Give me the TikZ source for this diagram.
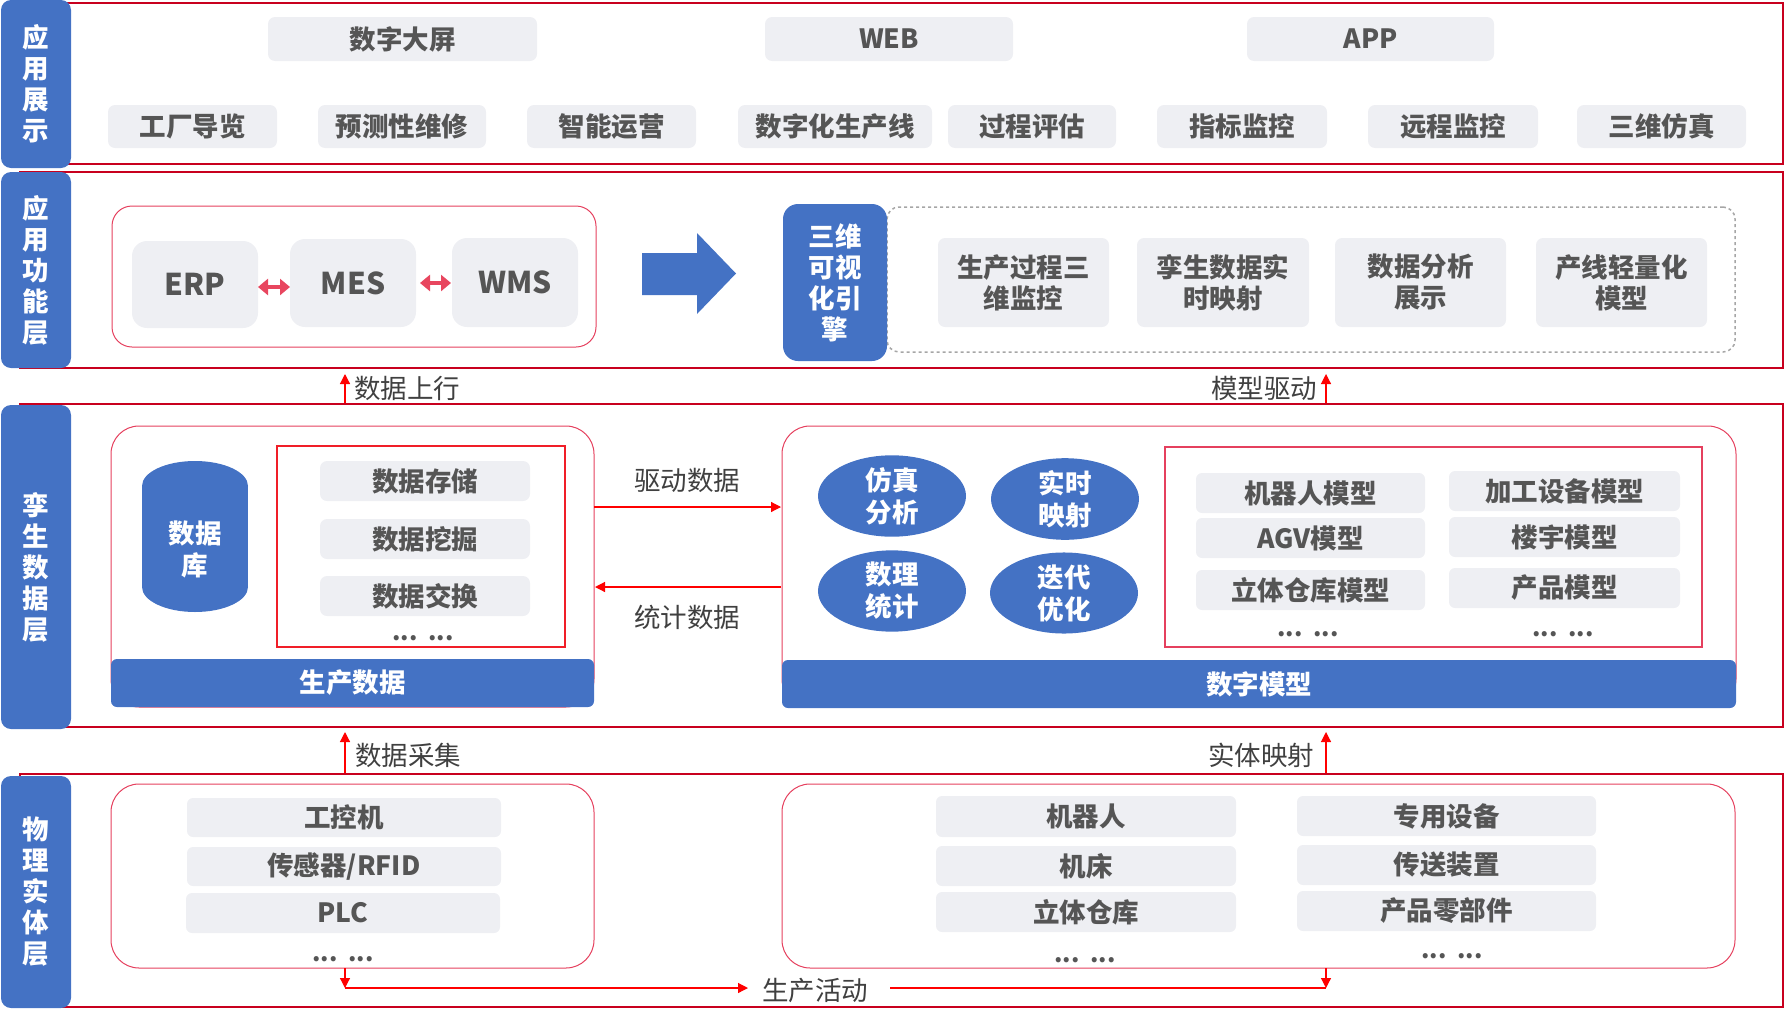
\documentclass[tikz,border=0pt]{standalone}
\usepackage{fontspec}
\setmainfont{Noto Sans CJK SC}
\usetikzlibrary{arrows.meta,shapes.geometric}
\definecolor{mblue}{HTML}{4472C4}
\definecolor{boxgray}{HTML}{EEEFF3}
\definecolor{tgray}{HTML}{555555}
\definecolor{lgray}{HTML}{404040}
\definecolor{bandred}{HTML}{C8001E}
\definecolor{conred}{HTML}{E5405E}
\definecolor{inred}{HTML}{F01E28}
\definecolor{arrred}{HTML}{FF0000}
\definecolor{dblred}{HTML}{E8465F}
\definecolor{dashgray}{HTML}{A6A6A6}
\newcommand{\bigf}{\fontsize{26.5}{31}\selectfont}
\begin{document}
\begin{tikzpicture}[x=1pt,y=-1pt,
  every node/.style={inner sep=0pt,outer sep=0pt},
  band/.style={draw=bandred,line width=2.5pt},
  lab/.style={fill=mblue,rounded corners=10pt,text=white,align=center,
    font=\bfseries\bigf,minimum width=70pt},
  gbox/.style={fill=boxgray,rounded corners=7pt,text=tgray,align=center,
    font=\bfseries\bigf},
  container/.style={draw=conred,line width=1pt,rounded corners=28pt},
  inbox/.style={draw=inred,line width=1.2pt},
  bluebar/.style={fill=mblue,rounded corners=6pt,text=white,
    font=\bfseries\bigf},
  circ/.style={ellipse,fill=mblue,text=white,align=center,
    minimum width=148pt,minimum height=80pt,
    font=\bfseries\fontsize{26.5}{32}\selectfont},
  clabel/.style={text=lgray,font=\bigf},
  dots/.style={text=tgray,font=\bfseries\fontsize{24}{26}\selectfont,anchor=base},
  rarrow/.style={draw=arrred,line width=1.2pt,-{Triangle[length=10pt,width=10pt]}},
  rline/.style={draw=arrred,line width=1.2pt},
  dbl/.style={draw=dblred,line width=4pt,
    {Triangle[length=10pt,width=16pt]}-{Triangle[length=10pt,width=16pt]}}
]
\useasboundingbox (0,0) rectangle (1786,1012);

% ---------- bands ----------
\node[band,minimum width=1763pt,minimum height=161pt] (b1) at (901.5,83.5) {};
\node[band,minimum width=1763pt,minimum height=196pt] (b2) at (901.5,270) {};
\node[band,minimum width=1763pt,minimum height=323pt] (b3) at (901.5,565.5) {};
\node[band,minimum width=1763pt,minimum height=233pt] (b4) at (901.5,890.5) {};

\node[lab,minimum height=168pt] (l1) at (36,84) {应\\用\\展\\示};
\node[lab,minimum height=196pt] (l2) at (36,270) {应\\用\\功\\能\\层};
\node[lab,minimum height=324pt] (l3) at (36,567) {孪\\生\\数\\据\\层};
\node[lab,minimum height=232pt] (l4) at (36,892) {物\\理\\实\\体\\层};

% ---------- band 1 ----------
\node[gbox,minimum width=269pt,minimum height=44pt] (screen) at (402.5,39) {数字大屏};
\node[gbox,minimum width=248pt,minimum height=44pt] (web) at (889,39) {WEB};
\node[gbox,minimum width=247pt,minimum height=44pt] (app) at (1370.5,39) {APP};
\node[gbox,minimum width=169pt,minimum height=43pt] (t1) at (192.5,126.5) {工厂导览};
\node[gbox,minimum width=168pt,minimum height=43pt] (t2) at (402,126.5) {预测性维修};
\node[gbox,minimum width=169pt,minimum height=43pt] (t3) at (611.5,126.5) {智能运营};
\node[gbox,minimum width=194pt,minimum height=43pt] (t4) at (835,126.5) {数字化生产线};
\node[gbox,minimum width=168pt,minimum height=43pt] (t5) at (1032,126.5) {过程评估};
\node[gbox,minimum width=170pt,minimum height=43pt] (t6) at (1242,126.5) {指标监控};
\node[gbox,minimum width=170pt,minimum height=43pt] (t7) at (1453,126.5) {远程监控};
\node[gbox,minimum width=169pt,minimum height=43pt] (t8) at (1661.5,126.5) {三维仿真};

% ---------- band 2 ----------
\node[container,rounded corners=20pt,minimum width=484pt,minimum height=141pt] (appL) at (354,276.5) {};
\node[gbox,rounded corners=15pt,minimum width=126pt,minimum height=87pt,font=\bfseries\fontsize{30}{34}\selectfont] (erp) at (195,284.5) {ERP};
\node[gbox,rounded corners=15pt,minimum width=126pt,minimum height=88pt,font=\bfseries\fontsize{30}{34}\selectfont] (mes) at (353,283) {MES};
\node[gbox,rounded corners=15pt,minimum width=126pt,minimum height=89pt,font=\bfseries\fontsize{30}{34}\selectfont] (wms) at (515,282.5) {WMS};
\coordinate (d1a) at (258,287); \coordinate (d1b) at (290,287);
\coordinate (d2a) at (420,283); \coordinate (d2b) at (451,283);
\draw[dbl] (d1a) -- (d1b);
\draw[dbl] (d2a) -- (d2b);

\fill[mblue] (642,253) -- (697,253) -- (697,233) -- (736,273.5) -- (697,314) -- (697,295) -- (642,295) -- cycle;

\node[draw=dashgray,dashed,line width=1.5pt,rounded corners=12pt,minimum width=848pt,minimum height=145pt] (dash) at (1311,279.5) {};
\node[fill=mblue,rounded corners=15pt,text=white,align=center,font=\bfseries\bigf,minimum width=104pt,minimum height=157pt] (engine) at (835,282.5) {三维\\可视\\化引\\擎};
\node[gbox,minimum width=171pt,minimum height=89pt] (f1) at (1023.5,282.5) {生产过程三\\维监控};
\node[gbox,minimum width=172pt,minimum height=89pt] (f2) at (1223,282.5) {孪生数据实\\时映射};
\node[gbox,minimum width=171pt,minimum height=89pt] (f3) at (1420.5,282.5) {数据分析\\展示};
\node[gbox,minimum width=171pt,minimum height=89pt] (f4) at (1621.5,282.5) {产线轻量化\\模型};

% ---------- between 2 and 3 ----------
\coordinate (u1a) at (345,403); \coordinate (u1b) at (345,374);
\coordinate (u2a) at (1326,403); \coordinate (u2b) at (1326,374);
\draw[rarrow] (u1a) -- (u1b);
\draw[rarrow] (u2a) -- (u2b);
\node[clabel,anchor=west] (lu1) at (354,388) {数据上行};
\node[clabel,anchor=east] (lu2) at (1317,388) {模型驱动};

% ---------- band 3 ----------
\node[container,minimum width=483pt,minimum height=281pt] (twinL) at (352.5,566.5) {};
\fill[mblue] (142,486) rectangle (248,587);
\fill[mblue] (195,486) ellipse[x radius=53,y radius=25];
\fill[mblue] (195,587) ellipse[x radius=53,y radius=25];
\node[text=white,align=center,font=\bfseries\fontsize{26.5}{32}\selectfont] (db) at (195,549) {数据\\库};
\node[inbox,minimum width=288pt,minimum height=201pt] (storeBox) at (421,546.5) {};
\node[gbox,minimum width=210pt,minimum height=40pt] (s1) at (425,481) {数据存储};
\node[gbox,minimum width=210pt,minimum height=40pt] (s2) at (425,539) {数据挖掘};
\node[gbox,minimum width=210pt,minimum height=40pt] (s3) at (425,596) {数据交换};
\node[dots] (dl) at (423,640) {...\ \ ...};
\node[bluebar,minimum width=483pt,minimum height=48pt] (prodbar) at (352.5,683) {生产数据};

\node[container,minimum width=954pt,minimum height=281pt] (twinR) at (1259,566.5) {};
\node[circ] (c1) at (892,496) {仿真\\分析};
\node[circ] (c2) at (1065,499) {实时\\映射};
\node[circ] (c3) at (892,591) {数理\\统计};
\node[circ] (c4) at (1064,593) {迭代\\优化};
\node[inbox,draw=conred,minimum width=537pt,minimum height=200pt] (modelBox) at (1433.5,547) {};
\node[gbox,rounded corners=6pt,minimum width=229pt,minimum height=40pt] (m1) at (1310.5,493) {机器人模型};
\node[gbox,rounded corners=6pt,minimum width=229pt,minimum height=40pt] (m2) at (1310.5,538) {AGV模型};
\node[gbox,rounded corners=6pt,minimum width=229pt,minimum height=40pt] (m3) at (1310.5,590) {立体仓库模型};
\node[gbox,rounded corners=6pt,minimum width=231pt,minimum height=40pt] (m4) at (1564.5,491) {加工设备模型};
\node[gbox,rounded corners=6pt,minimum width=231pt,minimum height=40pt] (m5) at (1564.5,537) {楼宇模型};
\node[gbox,rounded corners=6pt,minimum width=231pt,minimum height=40pt] (m6) at (1564.5,588) {产品模型};
\node[dots] (dm1) at (1308,636) {...\ \ ...};
\node[dots] (dm2) at (1563,636) {...\ \ ...};
\node[bluebar,minimum width=954pt,minimum height=48pt] (modelbar) at (1259,684) {数字模型};

\coordinate (h1a) at (594,507); \coordinate (h1b) at (781,507);
\coordinate (h2a) at (781,587); \coordinate (h2b) at (595,587);
\draw[rarrow] (h1a) -- (h1b);
\draw[rarrow] (h2a) -- (h2b);
\node[clabel] (ld) at (687,480) {驱动数据};
\node[clabel] (ls) at (687,617) {统计数据};

% ---------- between 3 and 4 ----------
\coordinate (v1a) at (345,773); \coordinate (v1b) at (345,732);
\coordinate (v2a) at (1326,773); \coordinate (v2b) at (1326,732);
\draw[rarrow] (v1a) -- (v1b);
\draw[rarrow] (v2a) -- (v2b);
\node[clabel,anchor=west] (lv1) at (355,755) {数据采集};
\node[clabel,anchor=east] (lv2) at (1314,755) {实体映射};

% ---------- band 4 ----------
\node[container,minimum width=483pt,minimum height=184pt] (phyL) at (352.5,876) {};
\node[gbox,rounded corners=6pt,minimum width=314pt,minimum height=39pt] (p1) at (344,817.5) {工控机};
\node[gbox,rounded corners=6pt,minimum width=314pt,minimum height=39pt] (p2) at (344,866.5) {传感器/RFID};
\node[gbox,rounded corners=6pt,minimum width=314pt,minimum height=40pt] (p3) at (343,913) {PLC};
\node[dots] (dp) at (343,961) {...\ \ ...};

\node[container,minimum width=953pt,minimum height=184pt] (phyR) at (1258.5,876) {};
\node[gbox,rounded corners=6pt,minimum width=300pt,minimum height=41pt] (r1) at (1086,816.5) {机器人};
\node[gbox,rounded corners=6pt,minimum width=300pt,minimum height=40pt] (r2) at (1086,866) {机床};
\node[gbox,rounded corners=6pt,minimum width=300pt,minimum height=40pt] (r3) at (1086,912) {立体仓库};
\node[gbox,rounded corners=6pt,minimum width=299pt,minimum height=40pt] (r4) at (1446.5,816) {专用设备};
\node[gbox,rounded corners=6pt,minimum width=299pt,minimum height=40pt] (r5) at (1446.5,865) {传送装置};
\node[gbox,rounded corners=6pt,minimum width=299pt,minimum height=40pt] (r6) at (1446.5,911) {产品零部件};
\node[dots] (dr1) at (1085,962) {...\ \ ...};
\node[dots] (dr2) at (1452,958) {...\ \ ...};

\coordinate (w1a) at (345,968); \coordinate (w1b) at (345,988);
\coordinate (w2a) at (1326,968); \coordinate (w2b) at (1326,988);
\coordinate (w3) at (748,988); \coordinate (w4) at (890,988);
\draw[rarrow] (w1a) -- (w1b);
\draw[rarrow] (w2a) -- (w2b);
\draw[rarrow] (w1b) -- (w3);
\draw[rline] (w4) -- (w2b);
\node[clabel] (lp) at (815,990) {生产活动};
\end{tikzpicture}
\end{document}
